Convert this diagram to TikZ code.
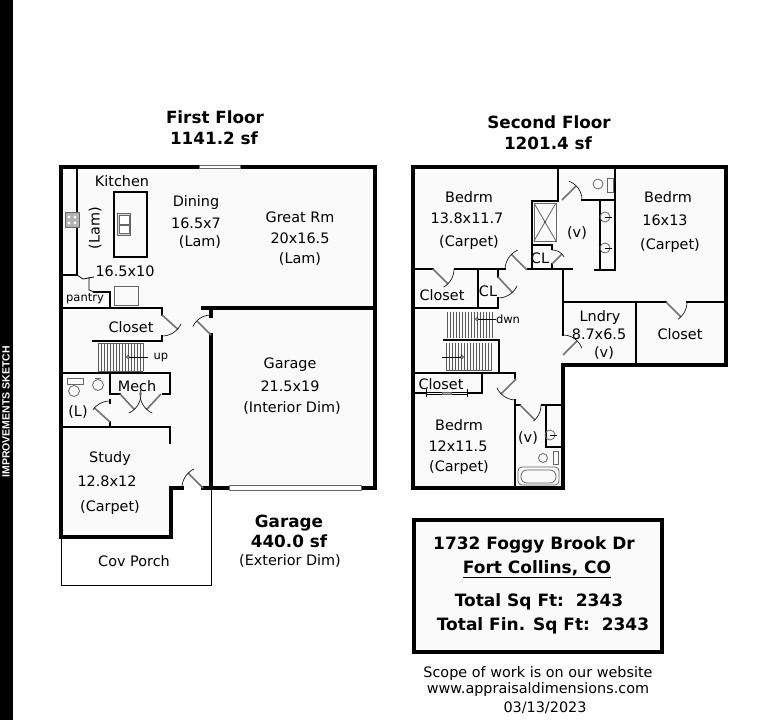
\documentclass[tikz,border=0pt]{standalone}
\usepackage{fontspec}
\setmainfont{DejaVu Sans}
\newfontfamily\stripfont{Liberation Sans}
\usepackage{tikz}
\usetikzlibrary{positioning,calc}
\definecolor{planfloor}{gray}{0.98}
\begin{document}
\begin{tikzpicture}[
    x=1pt, y=-1pt,
    room/.style={inner sep=0pt, font=\fontsize{14.4}{16}\selectfont},
    smalltxt/.style={inner sep=0pt, font=\fontsize{11.5}{13}\selectfont},
    headline/.style={inner sep=0pt, font=\fontsize{16.8}{18}\selectfont\bfseries},
    boxline/.style={inner sep=0pt, font=\fontsize{17}{19}\selectfont\bfseries},
    footline/.style={inner sep=0pt, font=\fontsize{14.4}{16}\selectfont},
    thickwall/.style={line width=4pt, line cap=rect, line join=miter},
    wall/.style={line width=1.8pt, line cap=rect, line join=miter},
    thinwall/.style={line width=1pt},
    leaf/.style={line width=1.6pt, draw=black!55},
    swing/.style={line width=0.6pt},
    fixture/.style={line width=0.8pt, draw=black!60},
    tread/.style={line width=0.6pt, draw=black!65}
]
    \useasboundingbox (0,0) rectangle (777,720);

    % Side strip
    \fill[black] (0,0) rectangle (13,720);
    \node[rotate=90, text=white, inner sep=0pt, font=\stripfont\fontsize{10.5}{12}\selectfont\bfseries] (strip) at (6,412) {IMPROVEMENTS SKETCH};

    % Floors
    \fill[planfloor] (61,167) rectangle (375,488);
    \fill[planfloor] (61,488) rectangle (171,537);
    \fill[planfloor] (413,167) -- (726,167) -- (726,365) -- (563,365) -- (563,488) -- (413,488) -- cycle;

    % First floor, outer walls
    \draw[thickwall] (199,167) -- (61,167) -- (61,537) -- (171,537) -- (171,488) -- (182,488);
    \draw[thickwall] (240,167) -- (375,167) -- (375,488) -- (361,488);
    \draw[thickwall] (229,488) -- (203,488);
    \draw[thickwall] (211,488) -- (211,335);
    \draw[thickwall] (203,308) -- (211,308) -- (211,316);
    \draw[thickwall] (211,308) -- (375,308);
    \draw[thinwall] (61,537) -- (61,585) -- (211,585) -- (211,488);
    \draw[fixture, fill=white] (199,165.5) rectangle (240,168.5);
    \draw[fixture, fill=white] (229,485.5) rectangle (361,490.5);

    % First floor, inner walls
    \draw[wall] (77,167) -- (77,275) -- (61,275);
    \draw[line width=0.8pt] (77,275) -- (83,279) -- (94,277);
    \draw[line width=0.8pt] (89,277) -- (89,290) -- (94,292);
    \draw[wall] (94,292) -- (110,292) -- (110,308);
    \draw[wall] (61,308) -- (162,308) -- (162,315);
    \draw[wall] (162,336) -- (162,341) -- (93,341);
    \draw[wall] (61,373) -- (170,373) -- (170,394) -- (163,394);
    \draw[wall] (110,373) -- (110,394) -- (120,394);
    \draw[wall] (110,400) -- (110,403);
    \draw[wall] (110,422) -- (110,427);
    \draw[wall] (61,427) -- (170,427) -- (170,443);

    % Kitchen fixtures
    \draw[line width=1.8pt] (114,192) rectangle (147,257);
    \draw[fixture, fill=black!15] (117,213) rectangle (130,235);
    \draw[fixture, fill=white] (119,215) rectangle (129,224);
    \draw[fixture, fill=white] (119,225) rectangle (129,233);
    \draw[fixture, fill=black!30] (65,212) rectangle (79,227);
    \foreach \px/\py in {69/217, 75/217, 69/223, 75/223}
        \fill[white] (\px,\py) circle (1.6pt);
    \draw[fixture] (114,286) rectangle (138,305);

    % First floor stairs
    \foreach \tx in {98,101,...,143}
        \draw[tread] (\tx,343) -- (\tx,371);
    \draw[tread] (98,343) -- (143,343) (98,371) -- (143,371);
    \draw[line width=0.6pt] (128,357) -- (148,357);
    \draw[line width=0.6pt, fill=white] (128,357) circle (1.5pt);

    % First floor half bath
    \draw[fixture] (67,378) rectangle (83,384);
    \draw[fixture] (74,391) circle (5.5pt);
    \draw[fixture] (98,385) circle (5.5pt);
    \draw[fixture] (95,378) -- (101,378);

    % Second floor, outer walls
    \draw[thickwall] (413,167) -- (726,167) -- (726,365) -- (563,365) -- (563,488) -- (413,488) -- cycle;

    % Second floor, inner walls
    \draw[wall] (558,167) -- (558,201);
    \draw[wall] (532,201) -- (558,201);
    \draw[line width=2.6pt] (532,201) -- (532,269);
    \draw[wall] (582,200) -- (615,200);
    \draw[wall] (615,167) -- (615,270) -- (595,270);
    \draw[wall] (600,200) -- (600,270);
    \draw[wall] (528,269) -- (572,269);
    \draw[wall] (532,245) -- (552,245) -- (552,249);
    \draw[wall] (552,264) -- (552,269);
    \draw[wall] (413,269) -- (433,269);
    \draw[wall] (455,269) -- (505,269);
    \draw[wall] (478,269) -- (478,308);
    \draw[wall] (498,269) -- (498,277);
    \draw[wall] (498,298) -- (498,308) -- (413,308);
    \draw[wall] (563,269) -- (563,335);
    \draw[wall] (563,302) -- (666,302);
    \draw[wall] (687,302) -- (726,302);
    \draw[wall] (636,302) -- (636,365);
    \draw[line width=2.4pt] (443,340) -- (499,340) -- (499,373);
    \draw[wall] (413,373) -- (515,373) -- (515,378);
    \draw[line width=2.4pt] (482,373) -- (482,393) -- (467,393);
    \draw[line width=2.4pt] (413,393) -- (426,393);
    \draw[wall] (515,400) -- (515,488);
    \draw[wall] (515,405) -- (520,405);
    \draw[line width=2.4pt] (541,405) -- (563,405);
    \draw[line width=2.4pt] (546,405) -- (546,447) -- (563,447);
    \draw[line width=0.6pt] (426,392) -- (467,392) (426,394) -- (467,394);
    \draw[line width=0.6pt] (426,389) -- (426,397) (467,389) -- (467,397);
    \draw[fixture, fill=black!30] (442,392) rectangle (451,394);

    % Second floor stairs
    \foreach \tx in {447,450,...,493}
        \draw[tread] (\tx,312) -- (\tx,338);
    \foreach \tx in {446,449,...,492}
        \draw[tread] (\tx,343) -- (\tx,370);
    \draw[tread] (446,370) -- (492,370);
    \draw[line width=0.6pt] (477,319) -- (496,319);
    \draw[line width=0.6pt, fill=white] (477,319) circle (1.5pt);
    \draw[line width=0.6pt] (442,357) -- (462,357);
    \draw[line width=0.6pt, fill=white] (462,357) circle (1.5pt);

    % Second floor fixtures
    \draw[fixture] (534,203) rectangle (556,241);
    \draw[fixture] (534,203) -- (556,241) (556,203) -- (534,241);
    \fill[black!70] (545,222) circle (1.3pt);
    \draw[fixture] (598,184) circle (5pt);
    \draw[fixture] (607,178) rectangle (613,192);
    \foreach \sy in {217,248}
    {
        \draw[fixture] (605,\sy) circle (5pt);
        \draw[line width=0.8pt] (605,\sy) -- (612,\sy);
    }
    \draw[fixture] (550,435) circle (5pt);
    \draw[line width=0.8pt] (550,435) -- (557,435);
    \draw[fixture] (543,458) circle (4.5pt);
    \draw[fixture] (553,451) rectangle (558,464);
    \draw[fixture, rounded corners=4pt] (518,467) rectangle (559,485);
    \draw[fixture, rounded corners=6pt] (521,470) rectangle (556,483);

    % Doors: hinge, radius, leaf angle, swing from, swing to
    \foreach \hx/\hy/\rad/\lang/\afrom/\ato in {
        162/315/21/42/25/90,
        211/335/20/225/205/270,
        203/488/21/225/180/245,
        110/422/21/222/215/270,
        120/394/21/47/65/-10,
        161/394/21/133/115/190,
        433/269/21/45/0/60,
        527/270/22/225/180/245,
        498/277/21/47/25/90,
        562/200/20/-45/-70/0,
        552/264/14/-45/-90/-30,
        666/302/21/45/0/55,
        563/355/20/-45/-90/-20,
        516/379/21/135/90/155,
        520/405/21/45/0/50}
    {
        \draw[leaf] (\hx,\hy) -- ({\hx+\rad*cos(\lang)},{\hy+\rad*sin(\lang)});
        \draw[swing] plot[domain=\afrom:\ato, samples=14, smooth] ({\hx+\rad*cos(\x)},{\hy+\rad*sin(\x)});
    }

    % Headings
    \node[headline] (firsttitle) at (215,117) {First Floor};
    \node[headline] (firstarea) at (214,138) {1141.2 sf};
    \node[headline] (secondtitle) at (549,122) {Second Floor};
    \node[headline] (secondarea) at (548,143) {1201.4 sf};
    \node[headline] (garagetitle) at (289,523) {Garage};
    \node[headline] (garagearea) at (289,541) {440.0 sf};
    \node[room] (garagedim) at (290,561) {(Exterior Dim)};

    % First floor labels
    \node[room] (kitchen) at (122,181) {Kitchen};
    \node[room, rotate=90] (kitchenlam) at (95,228) {(Lam)};
    \node[room] (kitchensize) at (125,271) {16.5x10};
    \node[room] (dining) at (196,203) {Dining};
    \node[room] (diningsize) at (196,223) {16.5x7};
    \node[room] (dininglam) at (200,242) {(Lam)};
    \node[room] (great) at (300,217) {Great Rm};
    \node[room] (greatsize) at (300,238) {20x16.5};
    \node[room] (greatlam) at (300,259) {(Lam)};
    \node[smalltxt] (pantry) at (85,299) {pantry};
    \node[room] (closeta) at (131,327) {Closet};
    \node[smalltxt] (upword) at (161,357) {up};
    \node[room] (mech) at (137,386) {Mech};
    \node[room] (halfbath) at (78,412) {(L)};
    \node[room] (study) at (110,459) {Study};
    \node[room] (studysize) at (107,481) {12.8x12};
    \node[room] (studycarpet) at (110,508) {(Carpet)};
    \node[room] (porch) at (134,561) {Cov Porch};
    \node[room] (garage) at (290,365) {Garage};
    \node[room] (garagesize) at (290,386) {21.5x19};
    \node[room] (garageint) at (292,408) {(Interior Dim)};

    % Second floor labels
    \node[room] (beda) at (469,197) {Bedrm};
    \node[room] (bedasize) at (467,218) {13.8x11.7};
    \node[room] (bedacarpet) at (469,243) {(Carpet)};
    \node[room] (bathv) at (577,233) {(v)};
    \node[room] (bedb) at (668,197) {Bedrm};
    \node[room] (bedbsize) at (665,220) {16x13};
    \node[room] (bedbcarpet) at (670,246) {(Carpet)};
    \node[room] (closetb) at (442,295) {Closet};
    \node[room] (cla) at (488,291) {CL};
    \node[room] (clb) at (540,258) {CL};
    \node[smalltxt] (dwn) at (508,319) {dwn};
    \node[room] (laundry) at (600,318) {Lndry};
    \node[room] (laundrysize) at (599,334) {8.7x6.5};
    \node[room] (laundryv) at (604,353) {(v)};
    \node[room] (closetc) at (680,334) {Closet};
    \node[room] (closetd) at (441,384) {Closet};
    \node[room] (bedc) at (459,425) {Bedrm};
    \node[room] (bedcsize) at (458,446) {12x11.5};
    \node[room] (bedccarpet) at (459,468) {(Carpet)};
    \node[room] (lowerv) at (528,438) {(v)};

    % Address box
    \draw[thickwall, fill=planfloor] (414,520) rectangle (662,652);
    \node[boxline] (street) at (534,545) {1732 Foggy Brook Dr};
    \node[boxline] (city) at (537,569) {\underline{Fort Collins, CO}};
    \node[boxline] (total) at (539,602) {Total Sq Ft:\ \ 2343};
    \node[boxline] (totalfin) at (543,626) {Total Fin. Sq Ft:\ \ 2343};

    % Footer
    \node[footline] (scope) at (538,674) {Scope of work is on our website};
    \node[footline] (site) at (538,690) {www.appraisaldimensions.com};
    \node[footline] (date) at (545,708) {03/13/2023};
\end{tikzpicture}
\end{document}
